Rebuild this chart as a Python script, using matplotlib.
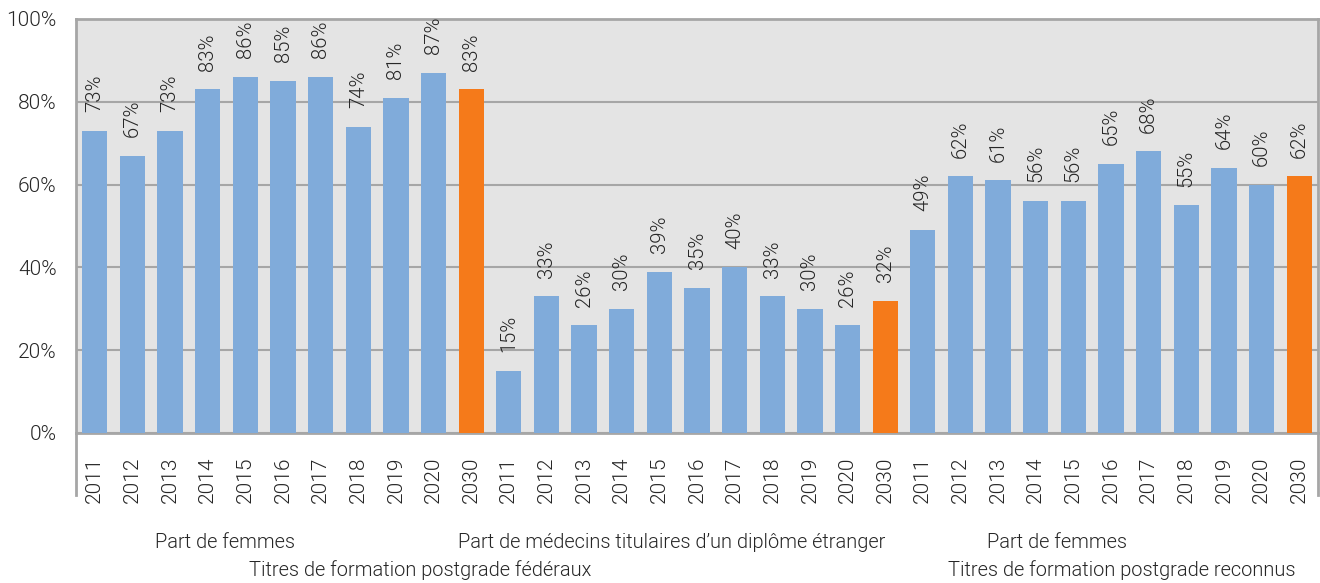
import matplotlib
matplotlib.use("Agg")
import matplotlib.pyplot as plt
import numpy as np

plt.rcParams['font.family'] = ['Roboto', 'DejaVu Sans']
plt.rcParams['font.weight'] = 300

years = ["2011", "2012", "2013", "2014", "2015", "2016", "2017", "2018", "2019", "2020", "2030"]
femmes_federaux = [73, 67, 73, 83, 86, 85, 86, 74, 81, 87, 83]
diplome_etranger = [15, 33, 26, 30, 39, 35, 40, 33, 30, 26, 32]
femmes_reconnus = [49, 62, 61, 56, 56, 65, 68, 55, 64, 60, 62]
groups = [femmes_federaux, diplome_etranger, femmes_reconnus]
yticks = [0, 20, 40, 60, 80, 100]
ytick_labels = ["0%", "20%", "40%", "60%", "80%", "100%"]

blue = "#80ABDA"
orange = "#F57A1A"
grid_c = "#A6A6A6"
txt_c = "#262626"
fs = 15

fig = plt.figure(figsize=(13.2, 5.83), dpi=100)
ax = fig.add_axes([76/1320, 150/583, 1242/1320, 414/583])
ax.set_facecolor("#E4E4E4")

values = []
labels = []
colors = []
for g in groups:
    for yr, v in zip(years, g):
        values.append(v)
        labels.append(yr)
        colors.append(orange if yr == "2030" else blue)

x = np.arange(len(values))
bars = ax.bar(x, values, width=0.67, color=colors, zorder=3)
for xi, v in zip(x, values):
    ax.annotate(f"{v}%", (xi, v), xytext=(0, 13.5), textcoords="offset points",
                rotation=90, ha="center", va="bottom", fontsize=14.6, color=txt_c,
                fontweight=300)

ax.set_xlim(-0.5, len(values) - 0.5)
ax.set_ylim(0, 100)
ax.set_yticks(yticks)
ax.set_yticklabels(ytick_labels, fontweight=300)
ax.set_xticks(x)
ax.set_xticklabels(labels, rotation=90, fontweight=300)
ax.tick_params(axis="x", length=0, pad=17, labelsize=fs, labelcolor=txt_c)
ax.tick_params(axis="y", length=0, pad=14, labelsize=fs, labelcolor=txt_c)
ax.grid(axis="y", color=grid_c, linewidth=1.5, zorder=1)
for s in ax.spines.values():
    s.set_color(grid_c)
    s.set_linewidth(2)

# extended vertical separators below axis
for xa in (0, 1):
    ax.plot([xa, xa], [0, -62/414], transform=ax.transAxes, color=grid_c,
            linewidth=2, clip_on=False)

def ftext(px, py, s):
    fig.text(px/1320, 1 - py/583, s, ha="center", va="center", fontsize=14.4,
             color=txt_c, fontweight=300)

ftext(225, 543, "Part de femmes")
ftext(420, 570, "Titres de formation postgrade fédéraux")
ftext(672, 543, "Part de médecins titulaires d\u2019un diplôme étranger")
ftext(1057, 543, "Part de femmes")
ftext(1122, 570, "Titres de formation postgrade reconnus")

fig.savefig("out.png", dpi=100)
